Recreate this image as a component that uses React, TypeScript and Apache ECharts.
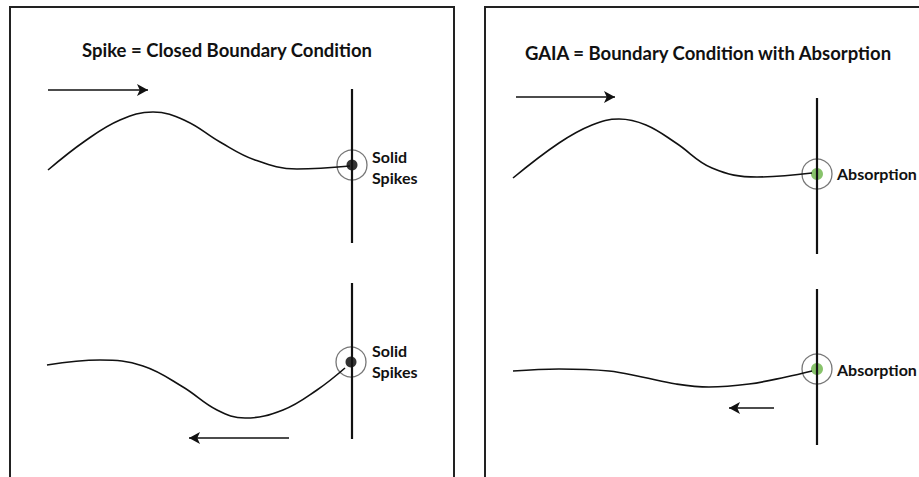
import React, { useEffect, useRef } from "react";
import * as echarts from "echarts";

// Diagram coordinates (pixel-like units on value axes)
const leftTopWave = [[48,170],[85,141],[120,120],[153,112],[186,121],[220,142],[255,160],[297,169],[350,166]];
const leftBottomWave = [[47,365],[100,360],[143,366],[183,387],[217,410],[245,418],[283,410],[317,390],[345,368]];
const rightTopWave = [[513,178],[559,143],[592,125],[619,119],[646,125],[676,143],[712,168],[757,177],[812,173]];
const rightBottomWave = [[513,371],[559,369],[609,371],[642,377],[676,384],[709,387],[749,384],[786,377],[812,371]];

const leftWalls = [[[352,89],[352,243]],[[352,283],[352,439]]];
const rightWalls = [[[817,98],[817,254]],[[817,289],[817,445]]];

const arrows = [
  [[48,90],[148,90]],
  [[289,438],[189,438]],
  [[516,97],[615,97]],
  [[774,408],[729,408]],
];

const rings = [[352,165],[351,362],[817,174],[817,369]];
const solidDots = [[352,165],[351,362]];
const absorbDots = [[817,174],[817,369]];

const titles = ["Spike = Closed Boundary Condition", "GAIA = Boundary Condition with Absorption"];
const leftLabel = "Solid\nSpikes";
const rightLabel = "Absorption";

export default function App() {
  const ref = useRef<HTMLDivElement>(null);
  useEffect(() => {
    document.body.style.margin = "0";
    const chart = echarts.init(ref.current!, null, { renderer: "svg" });
    const waveStyle = { color: "#111", width: 1.6 };
    const wallStyle = { color: "#111", width: 2.2 };
    const series: any[] = [];
    [leftTopWave, leftBottomWave, rightTopWave, rightBottomWave].forEach((w) => {
      series.push({ type: "line", data: w, smooth: 0.4, showSymbol: false, lineStyle: waveStyle, silent: true });
    });
    [...leftWalls, ...rightWalls].forEach((w) => {
      series.push({ type: "line", data: w, showSymbol: false, lineStyle: wallStyle, silent: true });
    });
    series.push({
      type: "line", data: [], silent: true,
      markLine: {
        silent: true, animation: false,
        symbol: ["none", "arrow"], symbolSize: [9, 11],
        label: { show: false },
        lineStyle: { color: "#111", width: 1.6, type: "solid" },
        data: arrows.map((a) => [{ coord: a[0] }, { coord: a[1] }]),
      },
    });
    series.push({ type: "scatter", data: rings, symbolSize: 30, silent: true,
      itemStyle: { color: "rgba(0,0,0,0)", borderColor: "#555", borderWidth: 1.3 } });
    series.push({ type: "scatter", data: solidDots, symbolSize: 11, silent: true, itemStyle: { color: "#000" } });
    series.push({ type: "scatter", data: absorbDots, symbolSize: 12, silent: true, itemStyle: { color: "#6ab446" } });

    const font = "Lato, 'Open Sans', sans-serif";
    chart.setOption({
      animation: false,
      backgroundColor: "#fff",
      grid: { left: 0, right: 0, top: 0, bottom: 0, containLabel: false },
      xAxis: { type: "value", min: 0, max: 919, show: false },
      yAxis: { type: "value", min: 0, max: 477, inverse: true, show: false },
      graphic: [
        { type: "rect", shape: { x: 10, y: 7, width: 444, height: 490 }, style: { fill: "none", stroke: "#222", lineWidth: 2 }, z: 10 },
        { type: "rect", shape: { x: 485, y: 7, width: 460, height: 490 }, style: { fill: "none", stroke: "#222", lineWidth: 2 }, z: 10 },
        { type: "text", x: 227, y: 50, style: { text: titles[0], fill: "#111", font: `bold 18.5px ${font}`, textAlign: "center", textVerticalAlign: "middle" } },
        { type: "text", x: 708, y: 53, style: { text: titles[1], fill: "#111", font: `bold 18.5px ${font}`, textAlign: "center", textVerticalAlign: "middle" } },
        { type: "text", x: 372, y: 167, style: { text: leftLabel, fill: "#111", font: `bold 16px ${font}`, lineHeight: 21, textVerticalAlign: "middle" } },
        { type: "text", x: 372, y: 361, style: { text: leftLabel, fill: "#111", font: `bold 16px ${font}`, lineHeight: 21, textVerticalAlign: "middle" } },
        { type: "text", x: 837, y: 173, style: { text: rightLabel, fill: "#111", font: `bold 16px ${font}`, textVerticalAlign: "middle" } },
        { type: "text", x: 837, y: 369, style: { text: rightLabel, fill: "#111", font: `bold 16px ${font}`, textVerticalAlign: "middle" } },
      ],
      series,
    });
    return () => chart.dispose();
  }, []);
  return <div ref={ref} style={{ width: 919, height: 477 }} />;
}
